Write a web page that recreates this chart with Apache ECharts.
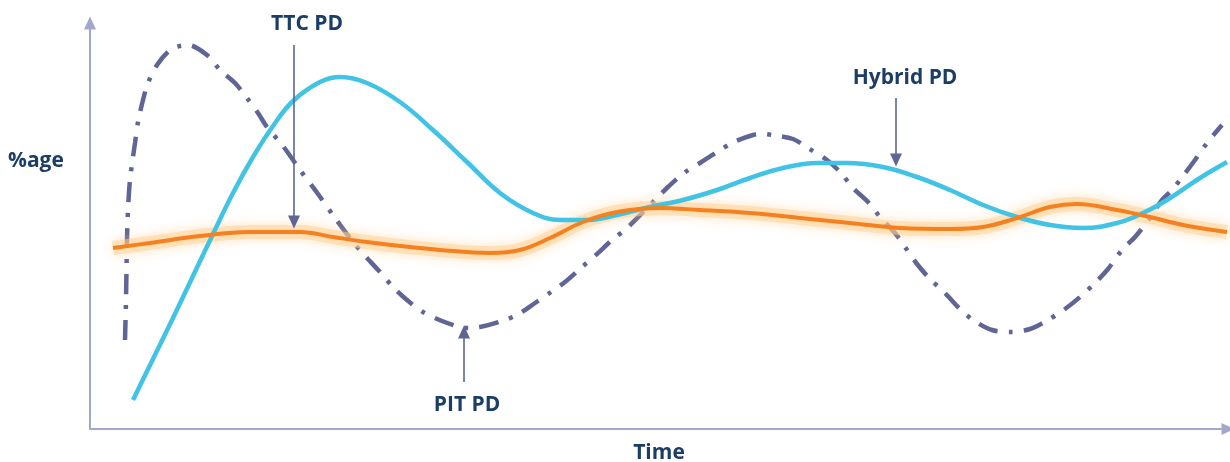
<!DOCTYPE html>
<html><head><meta charset="utf-8">
<script src="https://cdn.jsdelivr.net/npm/echarts@6/dist/echarts.min.js"></script>
<style>html,body{margin:0;padding:0;background:#fff}#c{width:1230px;height:462px}</style>
</head><body><div id="c"></div>
<script>
// values: x = time units, y = %age units
const pitPD = [[35,89],[36,129],[37,189],[38,219],[40,249],[45,286],[48,307],[53,329],[58,346],[67,364],[80,379],[90,383],[98,384],[117,374],[130,359],[145,346],[157,331],[168,316],[177,302],[193,283],[210,259],[228,235],[245,211],[263,187],[277,171],[290,157],[303,142],[317,129],[333,117],[352,108],[370,102],[380,101],[390,102],[409,107],[427,114],[445,126],[461,137],[475,147],[492,162],[507,175],[522,189],[537,201],[565,229],[578,242],[594,256],[610,266],[627,277],[644,287],[663,294],[672,295],[682,294],[703,290],[718,281],[737,269],[751,256],[763,241],[778,227],[790,212],[805,196],[815,182],[827,165],[840,150],[855,136],[869,121],[883,109],[902,99],[921,97],[940,100],[958,109],[975,120],[990,132],[1005,146],[1018,160],[1032,179],[1045,192],[1060,211],[1072,229],[1082,239],[1093,253],[1105,269],[1117,286],[1132,304]];
const hybridPD = [[43,29],[63,70],[83,111],[103,153],[123,195],[143,236],[163,272],[183,303],[203,328],[230,347],[250,352],[277,346],[310,327],[343,299],[377,267],[410,236],[443,216],[470,209],[497,209],[527,214],[560,222],[593,229],[627,239],[660,251],[693,261],[727,266],[757,266],[793,262],[827,252],[860,239],[893,224],[927,212],[960,204],[993,201],[1027,206],[1053,216],[1077,229],[1110,251],[1137,267]];
const ttcPD = [[23,181],[60,186],[110,193],[160,197],[210,197],[243,192],[277,187],[310,183],[350,179],[400,176],[430,179],[460,191],[493,207],[527,217],[570,221],[610,219],[660,216],[710,211],[760,206],[810,201],[860,200],[893,202],[927,211],[960,222],[987,225],[1027,219],[1060,212],[1093,204],[1137,197]];
const labelNames = ['TTC PD','Hybrid PD','PIT PD'];
const labelPos = [[217,405],[815,351],[377,24]];
const arrowFrom = [[204,384],[806,331],[374,47]];
const arrowTo = [[204,207],[806,269],[374,97]];
const xName = 'Time';
const yName = '%age';

const navy = '#1c3e66';
const chart = echarts.init(document.getElementById('c'));
chart.setOption({
  animation:false,
  backgroundColor:'#fff',
  grid:{left:90,right:2,top:23,bottom:33,containLabel:false,outerBoundsMode:'none'},
  xAxis:{type:'value',min:0,max:1138,
    name:xName,nameLocation:'middle',nameGap:14,
    nameTextStyle:{fontFamily:'Open Sans',fontWeight:'bold',fontSize:21,color:navy},
    axisLine:{show:true,symbol:['none','triangle'],symbolSize:[12,13],lineStyle:{color:'#a2a8c9',width:2}},
    axisTick:{show:false},axisLabel:{show:false},splitLine:{show:false}},
  yAxis:{type:'value',min:0,max:406,
    axisLine:{show:true,symbol:['none','triangle'],symbolSize:[12,13],lineStyle:{color:'#a2a8c9',width:2}},
    axisTick:{show:false},axisLabel:{show:false},splitLine:{show:false}},
  graphic:[{type:'text',left:8,top:151,style:{text:yName,font:'bold 21px "Open Sans"',fill:navy}}],
  series:[
    {type:'line',name:'PIT PD',data:pitPD,smooth:0.3,showSymbol:false,silent:true,
     lineStyle:{color:'#5f6595',width:4.5,type:[20,11,4,11],cap:'butt'},z:1},
    {type:'line',name:'TTC glow',data:ttcPD,smooth:0.4,showSymbol:false,silent:true,
     lineStyle:{color:'rgba(255,210,150,0.5)',width:14,shadowBlur:12,shadowColor:'rgba(255,195,120,0.9)'},z:2},
    {type:'line',name:'Hybrid PD',data:hybridPD,smooth:0.4,showSymbol:false,silent:true,
     lineStyle:{color:'#40c3e4',width:4.5},z:3},
    {type:'line',name:'TTC PD',data:ttcPD,smooth:0.4,showSymbol:false,silent:true,
     lineStyle:{color:'#f5801f',width:4},z:4},
    {type:'scatter',silent:true,clip:false,symbolSize:1,itemStyle:{color:'rgba(0,0,0,0)',opacity:1},z:5,
     data:labelNames.map((n,i)=>({name:n,value:labelPos[i]})),
     label:{show:true,position:'inside',formatter:'{b}',fontFamily:'Open Sans',fontWeight:'bold',fontSize:21,color:navy,opacity:1},
     markLine:{silent:true,symbol:['none','triangle'],symbolSize:[12,13],label:{show:false},
       lineStyle:{color:'#5f6595',width:1.6,type:'solid',opacity:1},
       data:arrowFrom.map((f,i)=>[{coord:f},{coord:arrowTo[i]}])}}
  ]
});
</script></body></html>
